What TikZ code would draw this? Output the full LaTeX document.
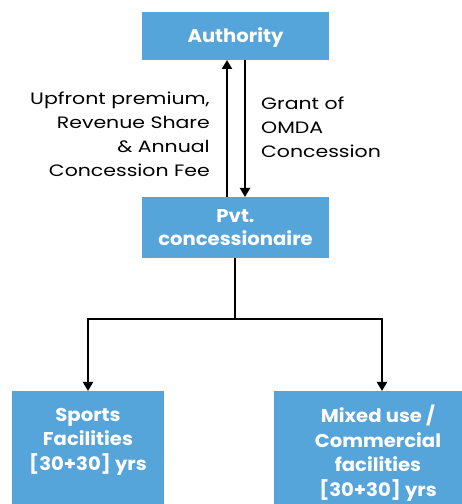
\documentclass[tikz,border=0pt]{standalone}
\usepackage{fontspec}
\setmainfont{Poppins}
\newfontfamily\lblfont[FakeStretch=1.24]{Poppins}
\newfontfamily\boxfont[FakeStretch=1.06]{Poppins}
\usetikzlibrary{arrows.meta,positioning}
\definecolor{boxblue}{RGB}{86,165,218}
\tikzset{
  bluebox/.style={fill=boxblue, draw=none, inner sep=0pt, text=white, font=\boxfont\bfseries\fontsize{18.5}{24.5}\selectfont, align=center},
  lbl/.style={font=\lblfont\fontsize{16.5}{24}\selectfont, inner sep=0pt},
  conn/.style={line width=2.4pt, draw=black},
  arr/.style={conn, -{Triangle[width=10pt,length=9pt]}}
}
\begin{document}
\begin{tikzpicture}[x=1pt,y=1pt]
\clip (0,0) rectangle (462,504);
\useasboundingbox (0,0) rectangle (462,504);
\node[bluebox, minimum width=187pt, minimum height=48pt, text height=13pt, text depth=0pt] (auth) at (235.5,468) {Authority};
\node[bluebox, minimum width=187pt, minimum height=61pt] (pvt) at (235.5,276.5) {Pvt.\\[-2pt]concessionaire};
\node[fill=boxblue, minimum width=152pt, minimum height=120pt, inner sep=0pt, anchor=north] (sports) at (88,113) {};
\node[fill=boxblue, minimum width=212pt, minimum height=120pt, inner sep=0pt, anchor=north] (mixed) at (380,113) {};
\node[bluebox, anchor=north] (sportst) at (88,96) {Sports\\Facilities\\{[30+30]} yrs};
\node[bluebox, anchor=north] (mixedt) at (378,99) {Mixed use /\\Commercial\\facilities\\{[30+30]} yrs};
\coordinate (upb) at (227,307);
\coordinate (upt) at (227,444);
\coordinate (dnt) at (245,444);
\coordinate (dnb) at (245,307);
\draw[arr] (upb) -- (upt);
\draw[arr] (dnt) -- (dnb);
\node[lbl, align=right, anchor=north east] (lft) at (210,412) {Upfront premium,\\Revenue Share\\\& Annual\\Concession Fee};
\node[lbl, align=left, anchor=north west] (rgt) at (261,407.5) {Grant of\\OMDA\\Concession};
\coordinate (junc) at (235,185);
\draw[conn] (pvt.south -| junc) -- (junc);
\draw[arr] (junc) -| (sports.north);
\draw[arr] (junc) -| ([xshift=2pt]mixed.north);
\end{tikzpicture}
\end{document}
